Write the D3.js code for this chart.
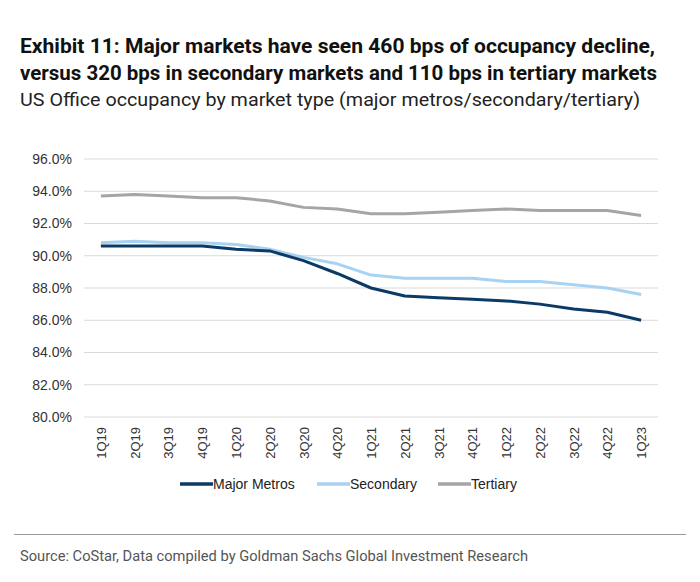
<!DOCTYPE html>
<html><head><meta charset="utf-8">
<script src="https://cdn.jsdelivr.net/npm/d3@7"></script>
<style>body{margin:0;background:#fff}svg{display:block}</style>
</head><body>
<svg id="c" width="700" height="582"></svg>
<script>
const categories = ["1Q19","2Q19","3Q19","4Q19","1Q20","2Q20","3Q20","4Q20","1Q21","2Q21","3Q21","4Q21","1Q22","2Q22","3Q22","4Q22","1Q23"];
const majorMetros = [90.6,90.6,90.6,90.6,90.4,90.3,89.7,88.9,88.0,87.5,87.4,87.3,87.2,87.0,86.7,86.5,86.0];
const secondary   = [90.8,90.9,90.8,90.8,90.7,90.4,89.9,89.5,88.8,88.6,88.6,88.6,88.4,88.4,88.2,88.0,87.6];
const tertiary    = [93.7,93.8,93.7,93.6,93.6,93.4,93.0,92.9,92.6,92.6,92.7,92.8,92.9,92.8,92.8,92.8,92.5];
const yTicks = [80,82,84,86,88,90,92,94,96];
const seriesNames = ["Major Metros","Secondary","Tertiary"];
const seriesColors = ["#0c3a66","#a8d2f1","#a5a5a5"];

const series = [majorMetros, secondary, tertiary].map((v,i)=>({name:seriesNames[i], color:seriesColors[i], values:v}));

const svg = d3.select("#c");
const font = "'Liberation Sans Narrow','Roboto','Liberation Sans',Arial,sans-serif";
const arial = "'Liberation Sans',Arial,sans-serif";

// Titles
svg.append("text").attr("x",20).attr("y",53).attr("textLength",635).attr("lengthAdjust","spacingAndGlyphs")
  .style("font-family",font).style("font-weight","bold").style("font-size","20px").attr("fill","#111")
  .text("Exhibit 11: Major markets have seen 460 bps of occupancy decline,");
svg.append("text").attr("x",20).attr("y",80).attr("textLength",637).attr("lengthAdjust","spacingAndGlyphs")
  .style("font-family",font).style("font-weight","bold").style("font-size","20px").attr("fill","#111")
  .text("versus 320 bps in secondary markets and 110 bps in tertiary markets");
svg.append("text").attr("x",20).attr("y",106).attr("textLength",620).attr("lengthAdjust","spacingAndGlyphs")
  .style("font-family",font).style("font-size","18.5px").attr("fill","#222")
  .text("US Office occupancy by market type (major metros/secondary/tertiary)");

const x = d3.scalePoint().domain(categories).range([84,658]).padding(0.5);
const y = d3.scaleLinear().domain([80,96]).range([417,159]);

// gridlines
svg.append("g").selectAll("line").data(yTicks).join("line")
  .attr("x1",84).attr("x2",658).attr("y1",d=>y(d)).attr("y2",d=>y(d))
  .attr("stroke","#d9d9d9").attr("stroke-width",1.2);

// y axis
const yAxis = d3.axisLeft(y).tickValues(yTicks).tickFormat(d=>d.toFixed(1)+"%").tickSize(0).tickPadding(0);
const gy = svg.append("g").attr("transform","translate(72,0)").call(yAxis);
gy.select(".domain").remove();
gy.selectAll("text").style("font-family",arial).style("font-size","14px").attr("fill","#333");

// x axis
const xAxis = d3.axisBottom(x).tickSize(0).tickPadding(0);
const gx = svg.append("g").attr("transform","translate(0,427)").call(xAxis);
gx.select(".domain").remove();
gx.selectAll("text").style("font-family",arial).style("font-size","13px").attr("fill","#333")
  .attr("transform","rotate(-90)").attr("text-anchor","end").attr("dy","0.35em").attr("x",0).attr("y",0);

// lines
const line = d3.line().x((d,i)=>x(categories[i])).y(d=>y(d));
svg.append("g").selectAll("path").data(series.slice().reverse()).join("path")
  .attr("d",d=>line(d.values)).attr("fill","none").attr("stroke",d=>d.color)
  .attr("stroke-width",3).attr("stroke-linejoin","round");

// legend
const legX = [180,317,438];
const lg = svg.append("g").selectAll("g").data(series).join("g").attr("transform",(d,i)=>`translate(${legX[i]},484)`);
lg.append("line").attr("x1",0).attr("x2",33).attr("y1",0).attr("y2",0).attr("stroke",d=>d.color).attr("stroke-width",3.5);
lg.append("text").attr("x",33).attr("y",0).attr("dy","0.35em").text(d=>d.name)
  .style("font-family",arial).style("font-size","14px").attr("fill","#222");

// footer
svg.append("line").attr("x1",14).attr("x2",686).attr("y1",534.5).attr("y2",534.5).attr("stroke","#999").attr("stroke-width",1);
svg.append("text").attr("x",20).attr("y",561).attr("textLength",508).attr("lengthAdjust","spacingAndGlyphs")
  .style("font-family",font).style("font-size","15px").attr("fill","#555")
  .text("Source: CoStar, Data compiled by Goldman Sachs Global Investment Research");
</script>
</body></html>
